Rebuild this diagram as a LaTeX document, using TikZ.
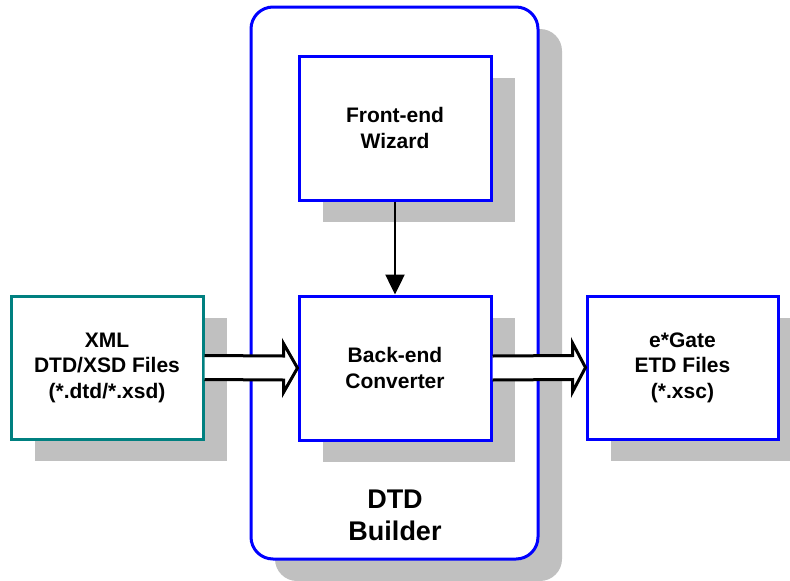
\documentclass[tikz,border=0pt]{standalone}
\usepackage{fontspec}
\setmainfont{Liberation Sans}
\usetikzlibrary{arrows.meta,shadows,calc}
\definecolor{shade}{RGB}{192,192,192}
\definecolor{tealline}{RGB}{0,128,128}
\definecolor{blueline}{RGB}{0,0,255}
\tikzset{
  boxshadow/.style={drop shadow={shadow xshift=24pt,shadow yshift=-22pt,fill=shade,opacity=1}},
  unitbox/.style={draw=blueline,line width=3pt,fill=white,boxshadow,
    minimum width=192pt,minimum height=144pt,align=center,
    font=\fontsize{21}{25.5}\selectfont\bfseries},
  filebox/.style={unitbox},
  blockarrow/.style={draw=black,fill=white,line width=3pt,line join=miter},
}
\begin{document}
\begin{tikzpicture}[x=1pt,y=-1pt]
\useasboundingbox (0,0) rectangle (790,581);

% the builder container
\node[draw=blueline,line width=3pt,fill=white,rounded corners=22pt,boxshadow,
      minimum width=287pt,minimum height=552pt] (dtd) at (394.5,283) {};
\node[font=\fontsize{27}{32}\selectfont\bfseries,align=center] (dtdlabel) at (395,515.5) {DTD\\Builder};

% stages inside the builder
\node[unitbox] (fe) at (395,128) {Front-end\\Wizard};
\node[unitbox] (be) at (395,368) {Back-end\\Converter};

% input and output files
\node[filebox,draw=tealline,minimum height=143pt] (src) at (107,367.5) {XML\\DTD/XSD Files\\(*.dtd/*.xsd)};
\node[filebox,minimum width=191pt,minimum height=143pt] (dst) at (682.5,367.5) {e*Gate\\ETD Files\\(*.xsc)};

% control flow between the stages
\draw[line width=2.5pt,-{Triangle[width=19pt,length=20pt]}] (fe.south) -- (be.north);

% data flow arrows (open at the tail, closed at the head)
\draw[blockarrow]
  ($(src.east)+(0,-12)$) -- ($(be.west)+(-14,-12)$) -- ($(be.west)+(-14,-24.5)$)
  -- (be.west)
  -- ($(be.west)+(-14,24.5)$) -- ($(be.west)+(-14,12)$) -- ($(src.east)+(0,12)$);
\draw[blockarrow]
  ($(be.east)+(0,-12)$) -- ($(dst.west)+(-13,-12)$) -- ($(dst.west)+(-13,-24.5)$)
  -- (dst.west)
  -- ($(dst.west)+(-13,24.5)$) -- ($(dst.west)+(-13,12)$) -- ($(be.east)+(0,12)$);
\end{tikzpicture}
\end{document}
